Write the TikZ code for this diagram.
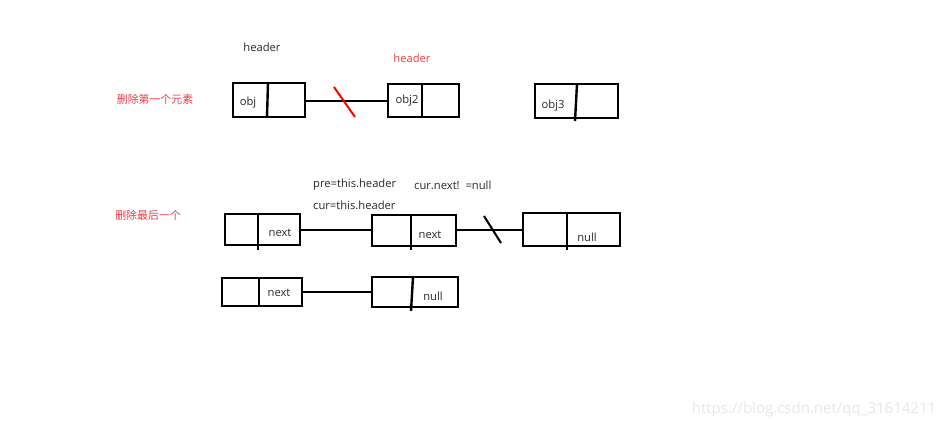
\documentclass[tikz,border=0pt]{standalone}
\usepackage{fontspec}
\setmainfont{Open Sans}
\newfontfamily\cjk{Noto Sans CJK SC}
\definecolor{redtxt}{RGB}{240,60,70}
\definecolor{txt}{RGB}{40,40,40}
\begin{document}
\begin{tikzpicture}[x=1pt,y=-1pt,
  cell/.style={draw=black,line width=2.4pt,minimum height=0pt,inner sep=0pt},
  conn/.style={draw=black,line width=2pt},
  lbl/.style={font=\fontsize{11.2}{13}\selectfont,text=txt,inner sep=0pt},
  cnlbl/.style={font=\cjk\fontsize{10.9}{13}\selectfont,text=redtxt,inner sep=0pt}]
\useasboundingbox[fill=white] (0,0) rectangle (944,429);

% ---- row 1
\node[cnlbl] (t1) at (155,99) {删除第一个元素};
\node[lbl] (h1) at (262,47) {header};
\node[lbl,text=redtxt] (h2) at (412,58) {header};

\draw[cell] (233,83) rectangle (305,117);
\draw[cell] (268,83) -- (267,117);
\coordinate (o1r) at (305,101);
\node[lbl] (o1) at (248,103) {obj};

\draw[cell] (388,84) rectangle (459,117);
\draw[cell] (422,84) -- (422,117);
\coordinate (o2l) at (388,101);
\node[lbl] (o2) at (407,101) {obj2};

\draw[cell] (535,84) rectangle (618,118);
\draw[cell] (577,84) -- (575,121);
\node[lbl] (o3) at (553,106) {obj3};

\draw[conn] (o1r) -- (o2l);
\coordinate (r1a) at (334,87);
\coordinate (r1b) at (355,117);
\draw[draw=red,line width=2pt] (r1a) -- (r1b);

% ---- row 2
\node[cnlbl] (t2) at (148,215) {删除最后一个};
\node[lbl,anchor=west] (pre) at (313,185) {pre=this.header};
\node[lbl,anchor=west] (cur) at (313,205) {cur=this.header};
\node[lbl,anchor=west] (cn) at (414,185) {cur.next!\ \ =null};

\draw[cell] (225,214) rectangle (300,245);
\draw[cell] (258,214) -- (258,250);
\node[lbl] (n1) at (280,233) {next};
\coordinate (a1r) at (300,230);

\draw[cell] (372,215) rectangle (456,246);
\draw[cell] (411,215) -- (411,250);
\node[lbl] (n2) at (430,235) {next};
\coordinate (a2l) at (372,230);
\coordinate (a2r) at (456,230);

\draw[cell] (523,213) rectangle (620,246);
\draw[cell] (567,213) -- (567,250);
\node[lbl] (n3) at (587,237) {null};
\coordinate (a3l) at (523,230);

\draw[conn] (a1r) -- (a2l);
\draw[conn] (a2r) -- (a3l);
\coordinate (s2a) at (484,216);
\coordinate (s2b) at (501,243);
\draw[conn] (s2a) -- (s2b);

% ---- row 3
\draw[cell] (222,278) rectangle (302,306);
\draw[cell] (259,278) -- (259,306);
\node[lbl] (n4) at (279,293) {next};
\coordinate (b1r) at (302,292);

\draw[cell] (372,277) rectangle (458,307);
\draw[cell] (413,277) -- (411,311);
\node[lbl] (n5) at (433,296) {null};
\coordinate (b2l) at (372,292);

\draw[conn] (b1r) -- (b2l);

% watermark
\node[font=\fontsize{15}{17}\selectfont,text=black!9,inner sep=0pt] (wm) at (814,410) {https://blog.csdn.net/qq\_31614211};
\end{tikzpicture}
\end{document}
